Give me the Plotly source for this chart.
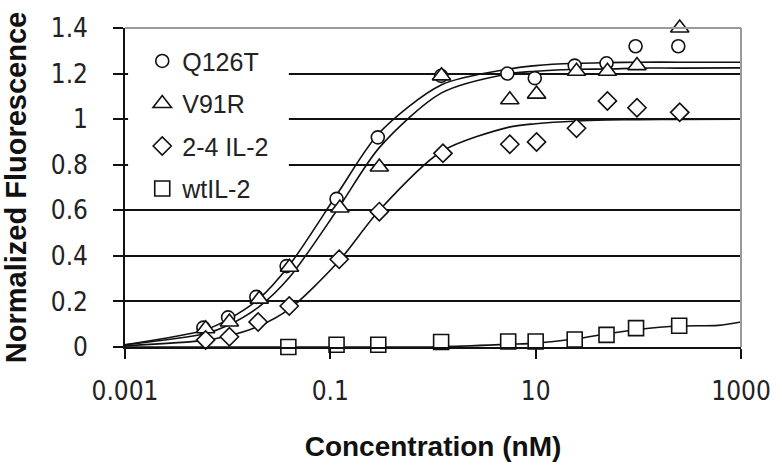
import plotly.graph_objects as go

# ---------------- data ----------------
series_names = ["Q126T", "V91R", "2-4 IL-2", "wtIL-2"]
symbols = ["circle", "triangle-up", "diamond", "square"]

q126t_x = [0.0058, 0.0101, 0.019, 0.0375, 0.115, 0.29, 1.2, 5.3, 9.8, 24, 49, 94, 245]
q126t_y = [0.085, 0.13, 0.22, 0.355, 0.65, 0.92, 1.19, 1.20, 1.18, 1.235, 1.245, 1.32, 1.32]

v91r_x = [0.0061, 0.0104, 0.0203, 0.040, 0.124, 0.30, 1.21, 5.6, 10.2, 25, 50, 97, 253]
v91r_y = [0.08, 0.11, 0.21, 0.35, 0.61, 0.79, 1.19, 1.085, 1.11, 1.21, 1.21, 1.235, 1.40]

il24_x = [0.0061, 0.0104, 0.0198, 0.0398, 0.122, 0.30, 1.25, 5.6, 10.2, 25, 50, 97, 253]
il24_y = [0.031, 0.045, 0.11, 0.18, 0.385, 0.594, 0.85, 0.89, 0.90, 0.96, 1.08, 1.05, 1.03]

wt_x = [0.039, 0.115, 0.293, 1.2, 5.4, 10, 24, 49, 95, 250]
wt_y = [0.0, 0.01, 0.01, 0.022, 0.024, 0.024, 0.033, 0.053, 0.083, 0.093]

# fitted curves
fit_x = [0.001, 0.006, 0.01, 0.02, 0.04, 0.12, 0.3, 1.2, 5.5, 10, 25, 50, 100, 250, 1000]
q126t_fit = [0.01, 0.075, 0.12, 0.21, 0.36, 0.68, 0.94, 1.15, 1.22, 1.235, 1.245, 1.248, 1.25, 1.25, 1.25]
v91r_fit = [0.01, 0.058, 0.094, 0.175, 0.306, 0.61, 0.875, 1.114, 1.199, 1.21, 1.219, 1.22, 1.224, 1.224, 1.225]
il24_fit = [0.005, 0.029, 0.048, 0.091, 0.167, 0.375, 0.60, 0.857, 0.965, 0.98, 0.992, 0.996, 0.998, 0.999, 1.0]
wt_fit_x = [0.001, 0.04, 0.12, 0.3, 1.2, 5.5, 10, 25, 50, 100, 250, 600, 1000]
wt_fit = [0.0, 0.0, 0.0, 0.0, 0.001, 0.012, 0.017, 0.036, 0.058, 0.077, 0.092, 0.095, 0.11]

x_tickvals = [0.001, 0.1, 10, 1000]
x_ticktext = ["0.001", "0.1", "10", "1000"]
y_tickvals = [0, 0.2, 0.4, 0.6, 0.8, 1, 1.2, 1.4]
y_ticktext = ["0", "0.2", "0.4", "0.6", "0.8", "1", "1.2", "1.4"]

x_title = "Concentration (nM)"
y_title = "Normalized Fluorescence"

# ---------------- figure ----------------
FONT = "Liberation Sans, Arial, Helvetica, sans-serif"
NARROW = "Liberation Sans Narrow, Arial Narrow, DejaVu Sans Condensed, Liberation Sans, sans-serif"
fig = go.Figure()

fits = [(fit_x, q126t_fit), (fit_x, v91r_fit), (fit_x, il24_fit), (wt_fit_x, wt_fit)]
for fx, fy in fits:
    fig.add_trace(go.Scatter(x=fx, y=fy, mode="lines", showlegend=False,
                             line=dict(color="#111", width=1.6, shape="spline", smoothing=0.8),
                             hoverinfo="skip"))

pts = [(q126t_x, q126t_y, 13), (v91r_x, v91r_y, 16), (il24_x, il24_y, 14), (wt_x, wt_y, 15)]
for i, (px, py, sz) in enumerate(pts):
    fig.add_trace(go.Scatter(
        x=px, y=py, mode="markers", name=series_names[i],
        legendgroup=series_names[i],
        marker=dict(symbol=symbols[i], size=sz, color="white",
                    line=dict(color="#111", width=1.6)),
        cliponaxis=False))

fig.update_layout(
    width=777, height=462,
    margin=dict(l=125, r=36, t=28, b=115),
    paper_bgcolor="white", plot_bgcolor="white",
    font=dict(family=FONT, color="#222"),
    showlegend=True,
    legend=dict(x=0.028, xanchor="left", y=0.968, yanchor="top",
                bgcolor="rgba(0,0,0,0)", font=dict(size=25, color="#222", family=FONT),
                traceorder="grouped", tracegroupgap=7, itemwidth=30),
    shapes=[
        # white area behind the legend (hides the gridlines there)
        dict(type="rect", xref="x domain", yref="y domain", x0=0.005, x1=0.266,
             y0=0.46, y1=0.975, fillcolor="white", line=dict(width=0), layer="above"),
        dict(type="line", xref="x domain", yref="y domain", x0=0, x1=1, y0=1, y1=1,
             line=dict(color="#9a9a9a", width=2), layer="above"),
        dict(type="line", xref="x domain", yref="y domain", x0=1, x1=1, y0=0, y1=1,
             line=dict(color="#9a9a9a", width=2), layer="above"),
    ],
)

fig.update_xaxes(type="log", range=[-3, 3], tickvals=x_tickvals, ticktext=x_ticktext,
                 automargin=False,
                 showgrid=False, zeroline=False, showline=True, linecolor="#111", linewidth=1.6,
                 ticks="outside", ticklen=10, tickwidth=1.6, tickcolor="#111",
                 tickfont=dict(size=26, family=NARROW, color="#222"), ticklabelstandoff=10,
                 title=dict(text="<b>" + x_title + "</b>", font=dict(size=28, family=FONT, color="#111"),
                            standoff=32))
fig.update_yaxes(range=[0, 1.4], tickvals=y_tickvals, ticktext=y_ticktext,
                 automargin=False,
                 showgrid=True, gridcolor="#111", gridwidth=1.5, zeroline=False,
                 showline=True, linecolor="#111", linewidth=1.6,
                 ticks="outside", ticklen=10, tickwidth=1.6, tickcolor="#111",
                 tickfont=dict(size=26, family=NARROW, color="#222"), ticklabelstandoff=20,
                 title=dict(text="<b>" + y_title + "</b>", font=dict(size=29, family=FONT, color="#111"),
                            standoff=22))

fig.write_html("out.html", config={"displayModeBar": False},
               post_script="document.body.style.margin='0px';document.body.style.overflow='hidden';")
